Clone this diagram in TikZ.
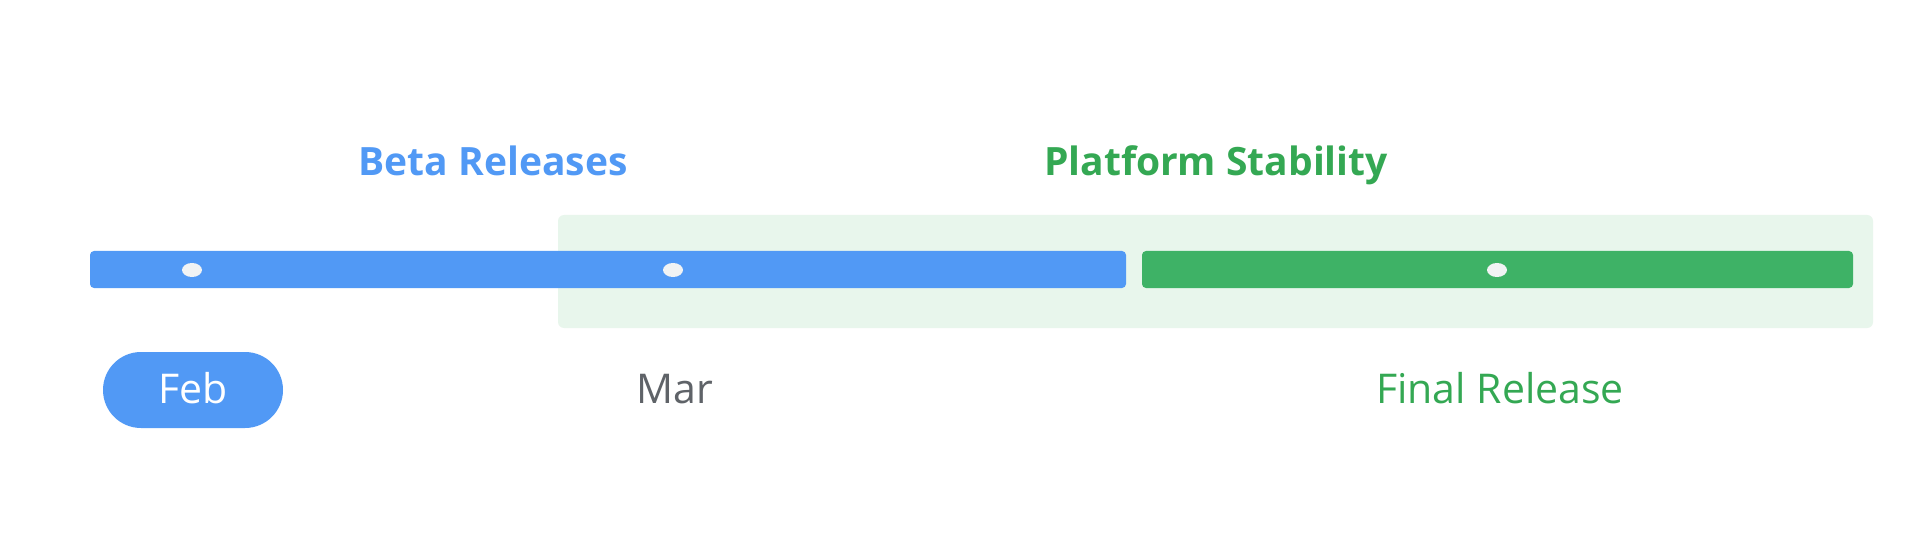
\documentclass[tikz,border=0pt]{standalone}
\usepackage{fontspec}
\setmainfont{Open Sans}
\usetikzlibrary{positioning,shapes.geometric}
\definecolor{betablue}{HTML}{5199F5}
\definecolor{stablegreen}{HTML}{3EB266}
\definecolor{greentext}{HTML}{34A853}
\definecolor{palegreen}{HTML}{E8F6EC}
\definecolor{monthgray}{HTML}{5F6368}
\definecolor{dotwhite}{HTML}{F1F3F4}
\tikzset{
	bar/.style={minimum height=37pt,inner sep=0pt,rounded corners=4pt},
	dot/.style={ellipse,minimum width=20pt,minimum height=14pt,inner sep=0pt,fill=dotwhite},
	heading/.style={anchor=base,inner sep=0pt,font=\fontsize{39}{40}\selectfont\bfseries},
	month/.style={anchor=base,inner sep=0pt,font=\fontsize{41}{42}\selectfont},
}
\begin{document}
\begin{tikzpicture}[x=1pt,y=-1pt]
		\useasboundingbox (0,0) rectangle (1920,540);
		\fill[white] (0,0) rectangle (1920,540);
		
		\node[minimum width=1315pt,minimum height=113pt,inner sep=0pt,rounded corners=6pt,fill=palegreen] (stab) at (1215.5,271.5) {};
		\node[bar,minimum width=1036pt,fill=betablue] (beta) at (608,269.5) {};
		\node[bar,minimum width=711pt,fill=stablegreen] (final) at (1497.5,269.5) {};
		\node[dot] (dfeb) at (192,270) {};
		\node[dot] (dmar) at (673,270) {};
		\node[dot] (dfin) at (1497,270) {};
		
		\node[heading,text=betablue] (betalbl) at (493,176) {Beta Releases};
		\node[heading,text=greentext] (stablbl) at (1216,176) {Platform Stability};
		
		\node[minimum width=180pt,minimum height=76pt,inner sep=0pt,rounded corners=38pt,fill=betablue] (feb) at (193,390) {};
		\node[month,text=white] (feblbl) at (193,403) {Feb};
		\node[month,text=monthgray] (mar) at (675,403) {Mar};
		\node[month,text=greentext] (finlbl) at (1500,403) {Final Release};
	\end{tikzpicture}
\end{document}
